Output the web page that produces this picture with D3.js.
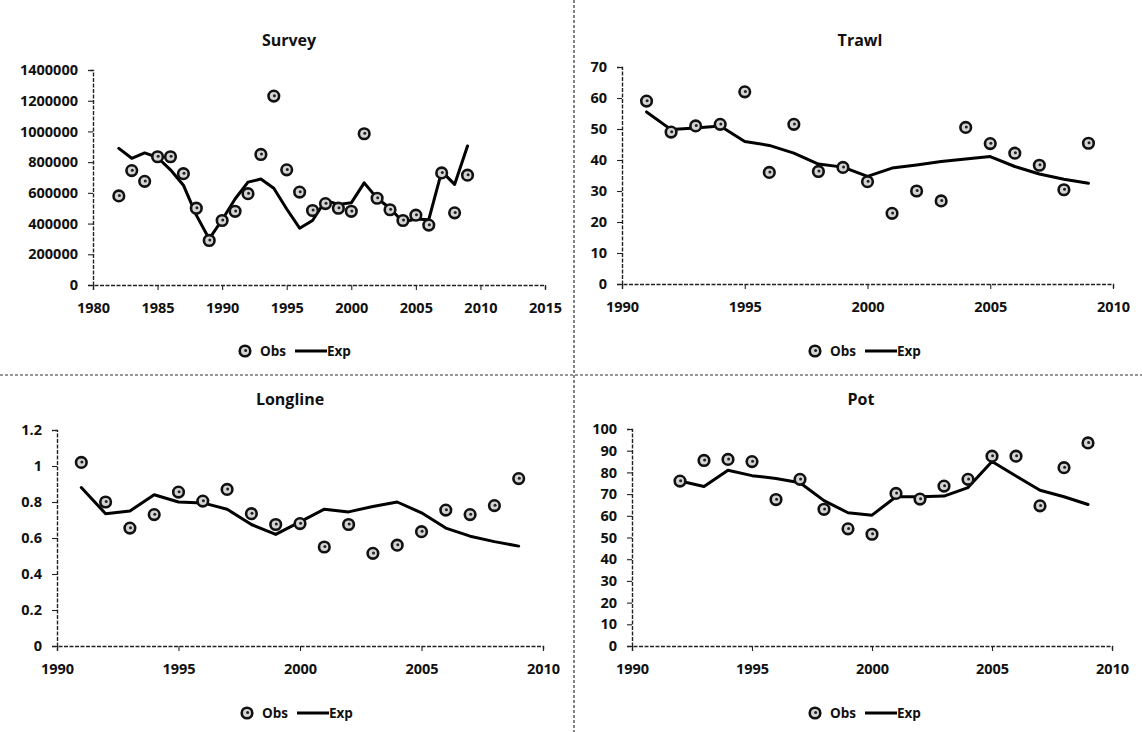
<!DOCTYPE html>
<html>
<head>
<meta charset="utf-8">
<script src="https://cdn.jsdelivr.net/npm/d3@7/dist/d3.min.js"></script>
<style>
  html, body { margin: 0; padding: 0; background: #fff; }
  svg { display: block; }
  svg text { font-family: "Open Sans", "Liberation Sans", sans-serif; font-weight: 700; fill: #111; }
  svg .tick text { font-size: 14.5px; }
</style>
</head>
<body>
<svg id="chart" width="1142" height="732"></svg>
<script>
// Observed (Obs) and expected (Exp) index values per fleet
const surveyYears = [1982,1983,1984,1985,1986,1987,1988,1989,1990,1991,1992,1993,1994,1995,1996,1997,1998,1999,2000,2001,2002,2003,2004,2005,2006,2007,2008,2009];
const surveyObs = [580000,745000,675000,835000,835000,725000,500000,290000,420000,480000,595000,850000,1230000,750000,605000,485000,530000,500000,480000,985000,565000,490000,420000,455000,390000,730000,470000,715000];
const surveyExp = [890000,825000,860000,830000,750000,650000,455000,300000,425000,560000,670000,690000,630000,495000,370000,420000,550000,525000,535000,665000,565000,500000,410000,430000,425000,740000,655000,905000];

const trawlYears = [1991,1992,1993,1994,1995,1996,1997,1998,1999,2000,2001,2002,2003,2004,2005,2006,2007,2008,2009];
const trawlObs = [59,49,51,51.5,62,36,51.5,36.3,37.6,33,22.8,30,26.8,50.5,45.3,42.2,38.3,30.4,45.4];
const trawlExp = [55.5,49.8,50.3,51,46,44.7,42.2,38.7,37.7,34.7,37.4,38.4,39.5,40.3,41.1,37.9,35.5,33.8,32.5];

const longlineYears = [1991,1992,1993,1994,1995,1996,1997,1998,1999,2000,2001,2002,2003,2004,2005,2006,2007,2008,2009];
const longlineObs = [1.02,0.80,0.655,0.73,0.855,0.805,0.87,0.735,0.675,0.68,0.55,0.675,0.515,0.56,0.635,0.755,0.73,0.78,0.93];
const longlineExp = [0.88,0.735,0.75,0.84,0.80,0.795,0.76,0.675,0.62,0.69,0.76,0.745,0.775,0.80,0.74,0.655,0.61,0.58,0.555];

const potYears = [1992,1993,1994,1995,1996,1997,1998,1999,2000,2001,2002,2003,2004,2005,2006,2007,2008,2009];
const potObs = [76,85.5,86,85,67.5,76.8,63,54,51.5,70.3,67.7,73.7,76.8,87.5,87.5,64.6,82.2,93.6];
const potExp = [76,73.5,81,78.5,77.2,75.2,67,61.4,60.3,68.8,68.8,69.1,73,85,78.3,71.8,68.8,65.2];

// Axis tick values
const surveyXTicks = [1980,1985,1990,1995,2000,2005,2010,2015];
const surveyYTicks = [0,200000,400000,600000,800000,1000000,1200000,1400000];
const fleetXTicks = [1990,1995,2000,2005,2010];
const trawlYTicks = [0,10,20,30,40,50,60,70];
const longlineYTicks = [0,0.2,0.4,0.6,0.8,1,1.2];
const potYTicks = [0,10,20,30,40,50,60,70,80,90,100];

const legendLabels = ["Obs", "Exp"];

const panels = [
  { title: "Survey", years: surveyYears, obs: surveyObs, exp: surveyExp,
    xDomain: [1980, 2015], yDomain: [0, 1400000], xTicks: surveyXTicks, yTicks: surveyYTicks,
    left: 93, right: 545, top: 70, bottom: 285, titleX: 289, titleY: 46, legendX: 245, legendY: 351 },
  { title: "Trawl", years: trawlYears, obs: trawlObs, exp: trawlExp,
    xDomain: [1990, 2010], yDomain: [0, 70], xTicks: fleetXTicks, yTicks: trawlYTicks,
    left: 622, right: 1113, top: 67, bottom: 284, titleX: 860, titleY: 46, legendX: 815, legendY: 351 },
  { title: "Longline", years: longlineYears, obs: longlineObs, exp: longlineExp,
    xDomain: [1990, 2010], yDomain: [0, 1.2], xTicks: fleetXTicks, yTicks: longlineYTicks,
    left: 57, right: 543, top: 430, bottom: 646, titleX: 290, titleY: 405, legendX: 247, legendY: 713 },
  { title: "Pot", years: potYears, obs: potObs, exp: potExp,
    xDomain: [1990, 2010], yDomain: [0, 100], xTicks: fleetXTicks, yTicks: potYTicks,
    left: 632, right: 1112, top: 429, bottom: 646, titleX: 861, titleY: 405, legendX: 815, legendY: 713 }
];

const svg = d3.select("#chart");

// Frame separators between the four charts
svg.append("line").attr("x1", 574).attr("x2", 574).attr("y1", 0).attr("y2", 732)
  .attr("stroke", "#333").attr("stroke-width", 1.2).attr("stroke-dasharray", "3,2");
svg.append("line").attr("x1", 0).attr("x2", 1142).attr("y1", 375).attr("y2", 375)
  .attr("stroke", "#333").attr("stroke-width", 1.2).attr("stroke-dasharray", "3,2");

function drawMarker(g, x, y) {
  g.append("circle").attr("cx", x).attr("cy", y).attr("r", 5.3)
    .attr("fill", "#d4d4d4").attr("stroke", "#111").attr("stroke-width", 2.6);
  g.append("circle").attr("cx", x + 0.6).attr("cy", y - 0.4).attr("r", 1.5).attr("fill", "#222");
}

panels.forEach(p => {
  const x = d3.scaleLinear().domain(p.xDomain).range([p.left, p.right]);
  const y = d3.scaleLinear().domain(p.yDomain).range([p.bottom, p.top]);
  const g = svg.append("g");

  // Title
  g.append("text").attr("x", p.titleX).attr("y", p.titleY).attr("text-anchor", "middle")
    .style("font-size", "16px").text(p.title);

  // Axes
  const xAxis = g.append("g").attr("transform", `translate(0,${p.bottom})`)
    .call(d3.axisBottom(x).tickValues(p.xTicks).tickFormat(d3.format("d")).tickSize(5).tickPadding(13));
  const yAxis = g.append("g").attr("transform", `translate(${p.left},0)`)
    .call(d3.axisLeft(y).tickValues(p.yTicks).tickSize(5).tickPadding(10)
      .tickFormat(d => String(+d.toFixed(6))));
  [xAxis, yAxis].forEach(a => {
    a.attr("font-family", "Open Sans").attr("font-size", 14.5).attr("font-weight", 700);
    a.select(".domain").attr("stroke", "#222").attr("stroke-width", 1.4).attr("stroke-dasharray", "4,1.5");
    a.selectAll(".tick line").attr("stroke", "#222").attr("stroke-width", 1.1);
    a.selectAll(".tick text").attr("font-size", 14.5).style("font-size", "14.5px");
  });

  // Expected line
  const line = d3.line().x((d, i) => x(p.years[i])).y(d => y(d));
  g.append("path").datum(p.exp).attr("d", line)
    .attr("fill", "none").attr("stroke", "#000").attr("stroke-width", 3)
    .attr("stroke-linejoin", "round").attr("stroke-linecap", "round");

  // Observed points
  p.obs.forEach((v, i) => drawMarker(g, x(p.years[i]), y(v)));

  // Legend
  const lg = g.append("g").attr("transform", `translate(${p.legendX},${p.legendY})`);
  drawMarker(lg, 0, 0);
  lg.append("text").attr("x", 15).attr("y", 5).style("font-size", "13.5px").text(legendLabels[0]);
  lg.append("line").attr("x1", 50).attr("x2", 82).attr("y1", 0).attr("y2", 0)
    .attr("stroke", "#000").attr("stroke-width", 3);
  lg.append("text").attr("x", 82).attr("y", 5).style("font-size", "13.5px").text(legendLabels[1]);
});
</script>
</body>
</html>
